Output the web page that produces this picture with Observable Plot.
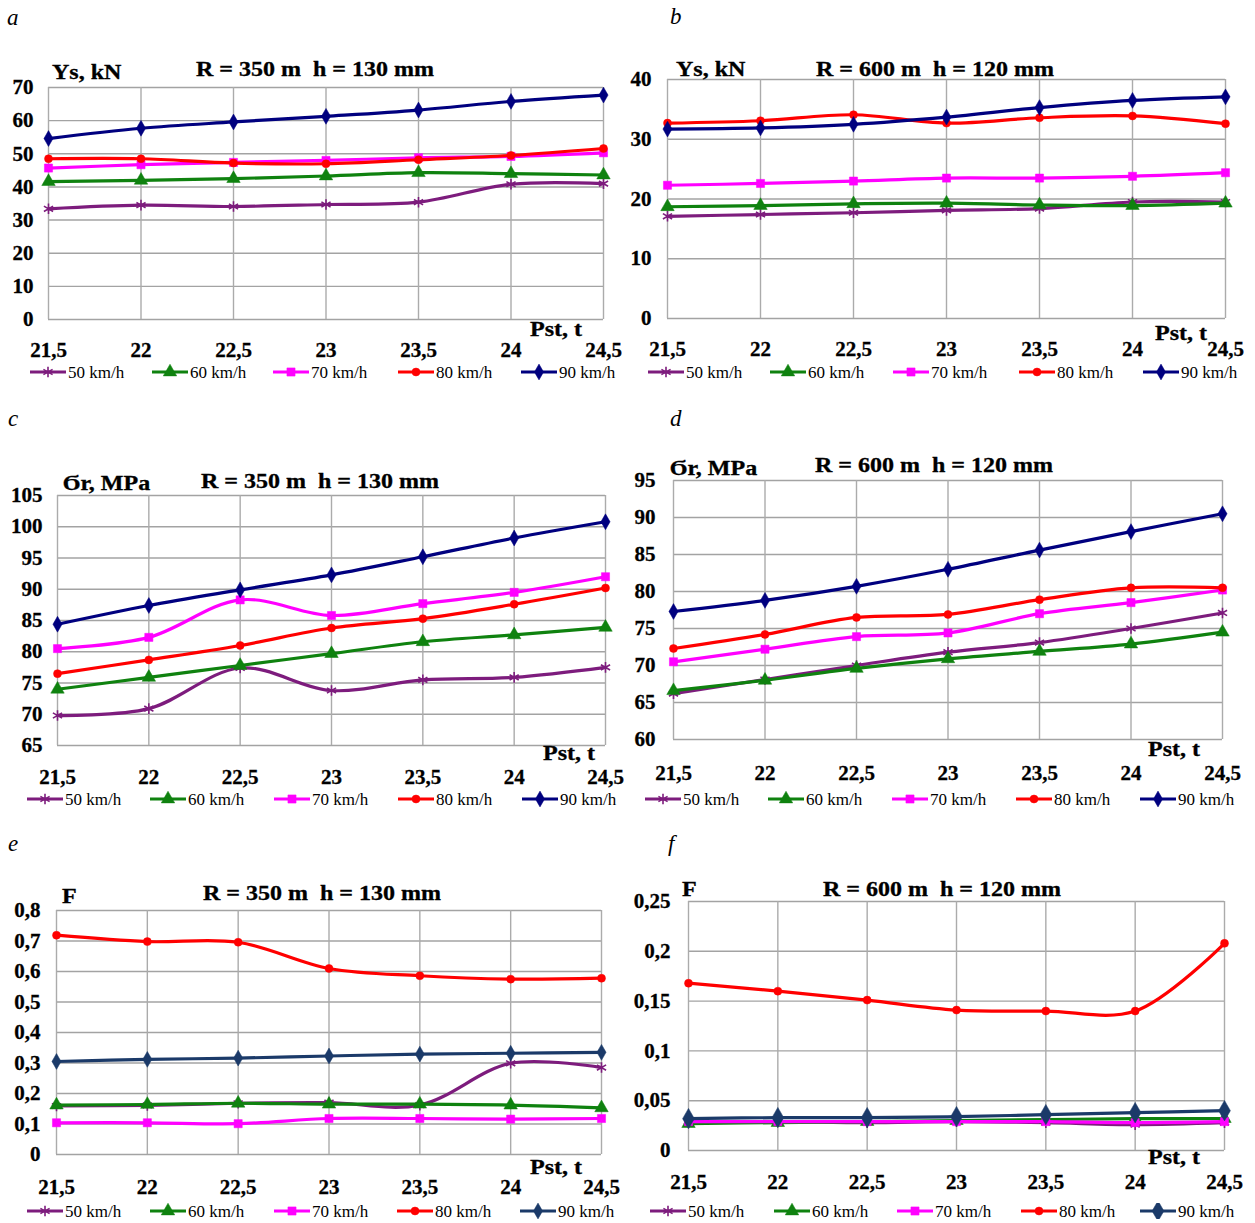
<!DOCTYPE html>
<html><head><meta charset="utf-8">
<script src="https://cdn.jsdelivr.net/npm/d3@7"></script>
<script src="https://cdn.jsdelivr.net/npm/@observablehq/plot@0.6"></script>
<style>
body{margin:0;background:#fff;}
#page{position:relative;width:1255px;height:1223px;overflow:hidden;font-family:"Liberation Serif","Times New Roman",serif;color:#000;background:#fff;}
.t{position:absolute;white-space:pre;line-height:1;}
.letter{font-style:italic;font-size:23px;}
.bold{font-weight:bold;font-size:20px;transform:scaleX(1.2);transform-origin:0 0;-webkit-text-stroke:0.3px #000;}
.leg{position:absolute;display:flex;align-items:center;font-size:17px;line-height:1;white-space:pre;}
.leg svg{display:block;margin-right:2px;}
.panel{position:absolute;}
.panel text{stroke:#000;stroke-width:0.3px;}
</style></head>
<body><div id="page"></div>
<script>
// ---- data ----
const pst = [21.5, 22, 22.5, 23, 23.5, 24, 24.5];
const speeds = ["50 km/h", "60 km/h", "70 km/h", "80 km/h", "90 km/h"];

const ys_R350_50 = [33.4, 34.5, 34.1, 34.7, 35.4, 40.8, 41.0];
const ys_R350_60 = [41.6, 42.0, 42.5, 43.3, 44.3, 44.0, 43.6];
const ys_R350_70 = [45.7, 46.7, 47.4, 48.0, 48.8, 49.2, 50.3];
const ys_R350_80 = [48.5, 48.5, 47.2, 47.0, 48.2, 49.5, 51.6];
const ys_R350_90 = [54.6, 57.7, 59.6, 61.3, 63.2, 65.8, 67.7];

const ys_R600_50 = [17.1, 17.4, 17.7, 18.1, 18.4, 19.5, 19.5];
const ys_R600_60 = [18.7, 18.9, 19.2, 19.3, 19.0, 18.9, 19.3];
const ys_R600_70 = [22.3, 22.6, 23.0, 23.5, 23.5, 23.8, 24.4];
const ys_R600_80 = [32.7, 33.1, 34.1, 32.7, 33.6, 33.9, 32.6];
const ys_R600_90 = [31.7, 31.9, 32.5, 33.7, 35.3, 36.5, 37.1];

const sr_R350_50 = [69.8, 70.9, 77.4, 73.8, 75.5, 75.9, 77.5];
const sr_R350_60 = [74.0, 75.9, 77.8, 79.7, 81.6, 82.7, 83.9];
const sr_R350_70 = [80.5, 82.3, 88.3, 85.8, 87.7, 89.5, 92.0];
const sr_R350_80 = [76.5, 78.7, 81.0, 83.8, 85.3, 87.6, 90.2];
const sr_R350_90 = [84.4, 87.4, 89.9, 92.3, 95.2, 98.2, 100.8];

const sr_R600_50 = [66.2, 68.1, 70.0, 71.8, 73.1, 75.0, 77.1];
const sr_R600_60 = [66.6, 68.0, 69.6, 70.9, 71.9, 72.9, 74.5];
const sr_R600_70 = [70.5, 72.2, 73.9, 74.4, 77.0, 78.5, 80.2];
const sr_R600_80 = [72.3, 74.2, 76.5, 76.9, 78.9, 80.5, 80.5];
const sr_R600_90 = [77.3, 78.8, 80.7, 83.0, 85.6, 88.1, 90.5];

const f_R350_50 = [0.159, 0.161, 0.168, 0.170, 0.162, 0.299, 0.285];
const f_R350_60 = [0.162, 0.164, 0.168, 0.165, 0.165, 0.162, 0.153];
const f_R350_70 = [0.104, 0.104, 0.101, 0.118, 0.118, 0.116, 0.118];
const f_R350_80 = [0.719, 0.698, 0.696, 0.610, 0.586, 0.575, 0.578];
const f_R350_90 = [0.305, 0.312, 0.316, 0.323, 0.329, 0.332, 0.335];

const f_R600_50 = [0.029, 0.029, 0.028, 0.029, 0.028, 0.026, 0.028];
const f_R600_60 = [0.027, 0.028, 0.029, 0.030, 0.031, 0.032, 0.032];
const f_R600_70 = [0.029, 0.029, 0.029, 0.029, 0.029, 0.028, 0.029];
const f_R600_80 = [0.168, 0.160, 0.151, 0.141, 0.140, 0.140, 0.208];
const f_R600_90 = [0.032, 0.033, 0.033, 0.034, 0.036, 0.038, 0.040];

const yTicksYs350 = [0, 10, 20, 30, 40, 50, 60, 70];
const yTicksYs600 = [0, 10, 20, 30, 40];
const yTicksSr350 = [65, 70, 75, 80, 85, 90, 95, 100, 105];
const yTicksSr600 = [60, 65, 70, 75, 80, 85, 90, 95];
const yTicksF350 = [0, 0.1, 0.2, 0.3, 0.4, 0.5, 0.6, 0.7, 0.8];
const yTicksF600 = [0, 0.05, 0.1, 0.15, 0.2, 0.25];

const panelLetters = ["a", "b", "c", "d", "e", "f"];
const yTitles = ["Ys, kN", "Ys, kN", "Ϭr, MPa", "Ϭr, MPa", "F", "F"];
const panelTitles = ["R = 350 m  h = 130 mm", "R = 600 m  h = 120 mm", "R = 350 m  h = 130 mm", "R = 600 m  h = 120 mm", "R = 350 m  h = 130 mm", "R = 600 m  h = 120 mm"];
const xTitle = "Pst, t";

// ---- styles ----
const symbols = ["asterisk", "triangle", "square", "circle", "diamond"];
const colorsStd = ["#7d1c7d", "#0f820f", "#ff00ff", "#ff0000", "#00007f"];
const colorsF = ["#7d1c7d", "#0f820f", "#ff00ff", "#ff0000", "#1b3a69"];

const fmt = d => String(d).replace(".", ",");
const page = document.getElementById("page");

function addText(cls, txt, left, centerY, size) {
  const el = document.createElement("div");
  el.className = "t " + cls;
  el.textContent = txt;
  el.style.left = left + "px";
  el.style.top = (centerY - size * 0.5) + "px";
  page.appendChild(el);
  return el;
}

const panels = [
  {series:[ys_R350_50, ys_R350_60, ys_R350_70, ys_R350_80, ys_R350_90], ticks: yTicksYs350, colors: colorsStd,
   box:{l:48, r:603, t:87, b:319}, pad:23, ypad:15,
   letter:[7, 17], ytitle:[52, 72], title:[196, 69], xt:[530, 329], leg:{y:372, xs:[30,152,273,398,521]}},
  {series:[ys_R600_50, ys_R600_60, ys_R600_70, ys_R600_80, ys_R600_90], ticks: yTicksYs600, colors: colorsStd,
   box:{l:667, r:1225, t:79, b:318}, pad:23, ypad:16,
   letter:[670, 16], ytitle:[676, 69], title:[816, 69], xt:[1155, 333], leg:{y:372, xs:[648,770,893,1019,1143]}},
  {series:[sr_R350_50, sr_R350_60, sr_R350_70, sr_R350_80, sr_R350_90], ticks: yTicksSr350, colors: colorsStd,
   box:{l:57, r:605, t:495, b:745}, pad:24, ypad:15,
   letter:[8, 418], ytitle:[63, 483], title:[201, 481], xt:[543, 753], leg:{y:799, xs:[27,150,274,398,522]}},
  {series:[sr_R600_50, sr_R600_60, sr_R600_70, sr_R600_80, sr_R600_90], ticks: yTicksSr600, colors: colorsStd,
   box:{l:673, r:1222, t:480, b:739}, pad:26, ypad:18,
   letter:[670, 418], ytitle:[670, 468], title:[815, 465], xt:[1148, 749], leg:{y:799, xs:[645,768,892,1016,1140]}},
  {series:[f_R350_50, f_R350_60, f_R350_70, f_R350_80, f_R350_90], ticks: yTicksF350, colors: colorsF,
   box:{l:56, r:601, t:910, b:1154}, pad:25, ypad:16,
   letter:[8, 843], ytitle:[62, 896], title:[203, 893], xt:[530, 1167], leg:{y:1211, xs:[27,150,274,397,520]}},
  {series:[f_R600_50, f_R600_60, f_R600_70, f_R600_80, f_R600_90], ticks: yTicksF600, colors: colorsF,
   box:{l:688, r:1224, t:901, b:1150}, pad:24, ypad:18,
   letter:[668, 843], ytitle:[682, 889], title:[823, 889], xt:[1148, 1157], leg:{y:1211, xs:[650,774,897,1021,1140]}}
];

const dotR = [5, 5, 4.6, 4, 4.8];

panels.forEach((p, pi) => {
  const {l, r, t, b} = p.box;
  const svgLeft = Math.max(0, l - 62);
  const ML = l - svgLeft, MR = 25, MT = 10, MB = 48;
  const width = (r - l) + ML + MR;
  const height = (b - t) + MT + MB;
  const ymin = p.ticks[0], ymax = p.ticks[p.ticks.length - 1];

  const marks = [
    Plot.ruleY(p.ticks, {y: d => d, stroke: "#a3a3a3", strokeWidth: 1.4}),
    Plot.ruleX(pst, {x: d => d, stroke: "#ababab", strokeWidth: 1.4})
  ];
  p.series.forEach((vals, si) => {
    const rows = pst.map((x, i) => ({x, v: vals[i], s: speeds[si]}));
    const col = p.colors[si];
    marks.push(Plot.line(rows, {x: "x", y: "v", stroke: col, strokeWidth: 3.2, curve: "catmull-rom"}));
    const isAst = symbols[si] === "asterisk";
    let rr = dotR[si];
    if (pi === 5 && si === 4) rr = 6.2;
    marks.push(Plot.dot(rows, {
      x: "x", y: "v", symbol: symbols[si], r: rr,
      fill: isAst ? "none" : col,
      stroke: col, strokeWidth: isAst ? 1.6 : 0.5
    }));
  });

  const chart = Plot.plot({
    width, height,
    marginLeft: ML, marginRight: MR, marginTop: MT, marginBottom: MB,
    style: {fontFamily: "'Liberation Serif', 'Times New Roman', serif", fontSize: "21px", fontWeight: "bold", color: "#000", background: "transparent", overflow: "visible"},
    x: {domain: [21.5, 24.5], ticks: pst, tickFormat: fmt, tickSize: 0, tickPadding: p.pad, label: null},
    y: {domain: [ymin, ymax], ticks: p.ticks, tickFormat: fmt, tickSize: 0, tickPadding: p.ypad, label: null},
    marks
  });
  const holder = document.createElement("div");
  holder.className = "panel";
  holder.style.left = svgLeft + "px";
  holder.style.top = (t - MT) + "px";
  holder.appendChild(chart);
  page.appendChild(holder);

  // texts
  addText("letter", panelLetters[pi], p.letter[0], p.letter[1], 23);
  addText("bold", yTitles[pi], p.ytitle[0], p.ytitle[1], 20);
  addText("bold", panelTitles[pi], p.title[0], p.title[1], 20);
  addText("bold", xTitle, p.xt[0], p.xt[1], 20);

  // legend
  p.leg.xs.forEach((lx, si) => {
    const col = p.colors[si];
    const item = document.createElement("div");
    item.className = "leg";
    item.style.left = lx + "px";
    item.style.top = (p.leg.y - 8) + "px";
    item.style.height = "16px";
    const svg = d3.create("svg").attr("width", 36).attr("height", 16);
    svg.append("line").attr("x1", 0).attr("x2", 36).attr("y1", 8).attr("y2", 8)
      .attr("stroke", col).attr("stroke-width", 3.2);
    const symMap = {asterisk: d3.symbolAsterisk, triangle: d3.symbolTriangle, square: d3.symbolSquare, circle: d3.symbolCircle, diamond: d3.symbolDiamond};
    let rr = dotR[si];
    if (pi === 5 && si === 4) rr = 6.2;
    const isAst = symbols[si] === "asterisk";
    svg.append("path").attr("transform", "translate(18,8)")
      .attr("d", d3.symbol(symMap[symbols[si]], Math.PI * rr * rr)())
      .attr("fill", isAst ? "none" : col).attr("stroke", col).attr("stroke-width", isAst ? 1.6 : 0.5);
    item.appendChild(svg.node());
    const span = document.createElement("span");
    span.textContent = speeds[si];
    item.appendChild(span);
    page.appendChild(item);
  });
});
</script>
</body></html>
